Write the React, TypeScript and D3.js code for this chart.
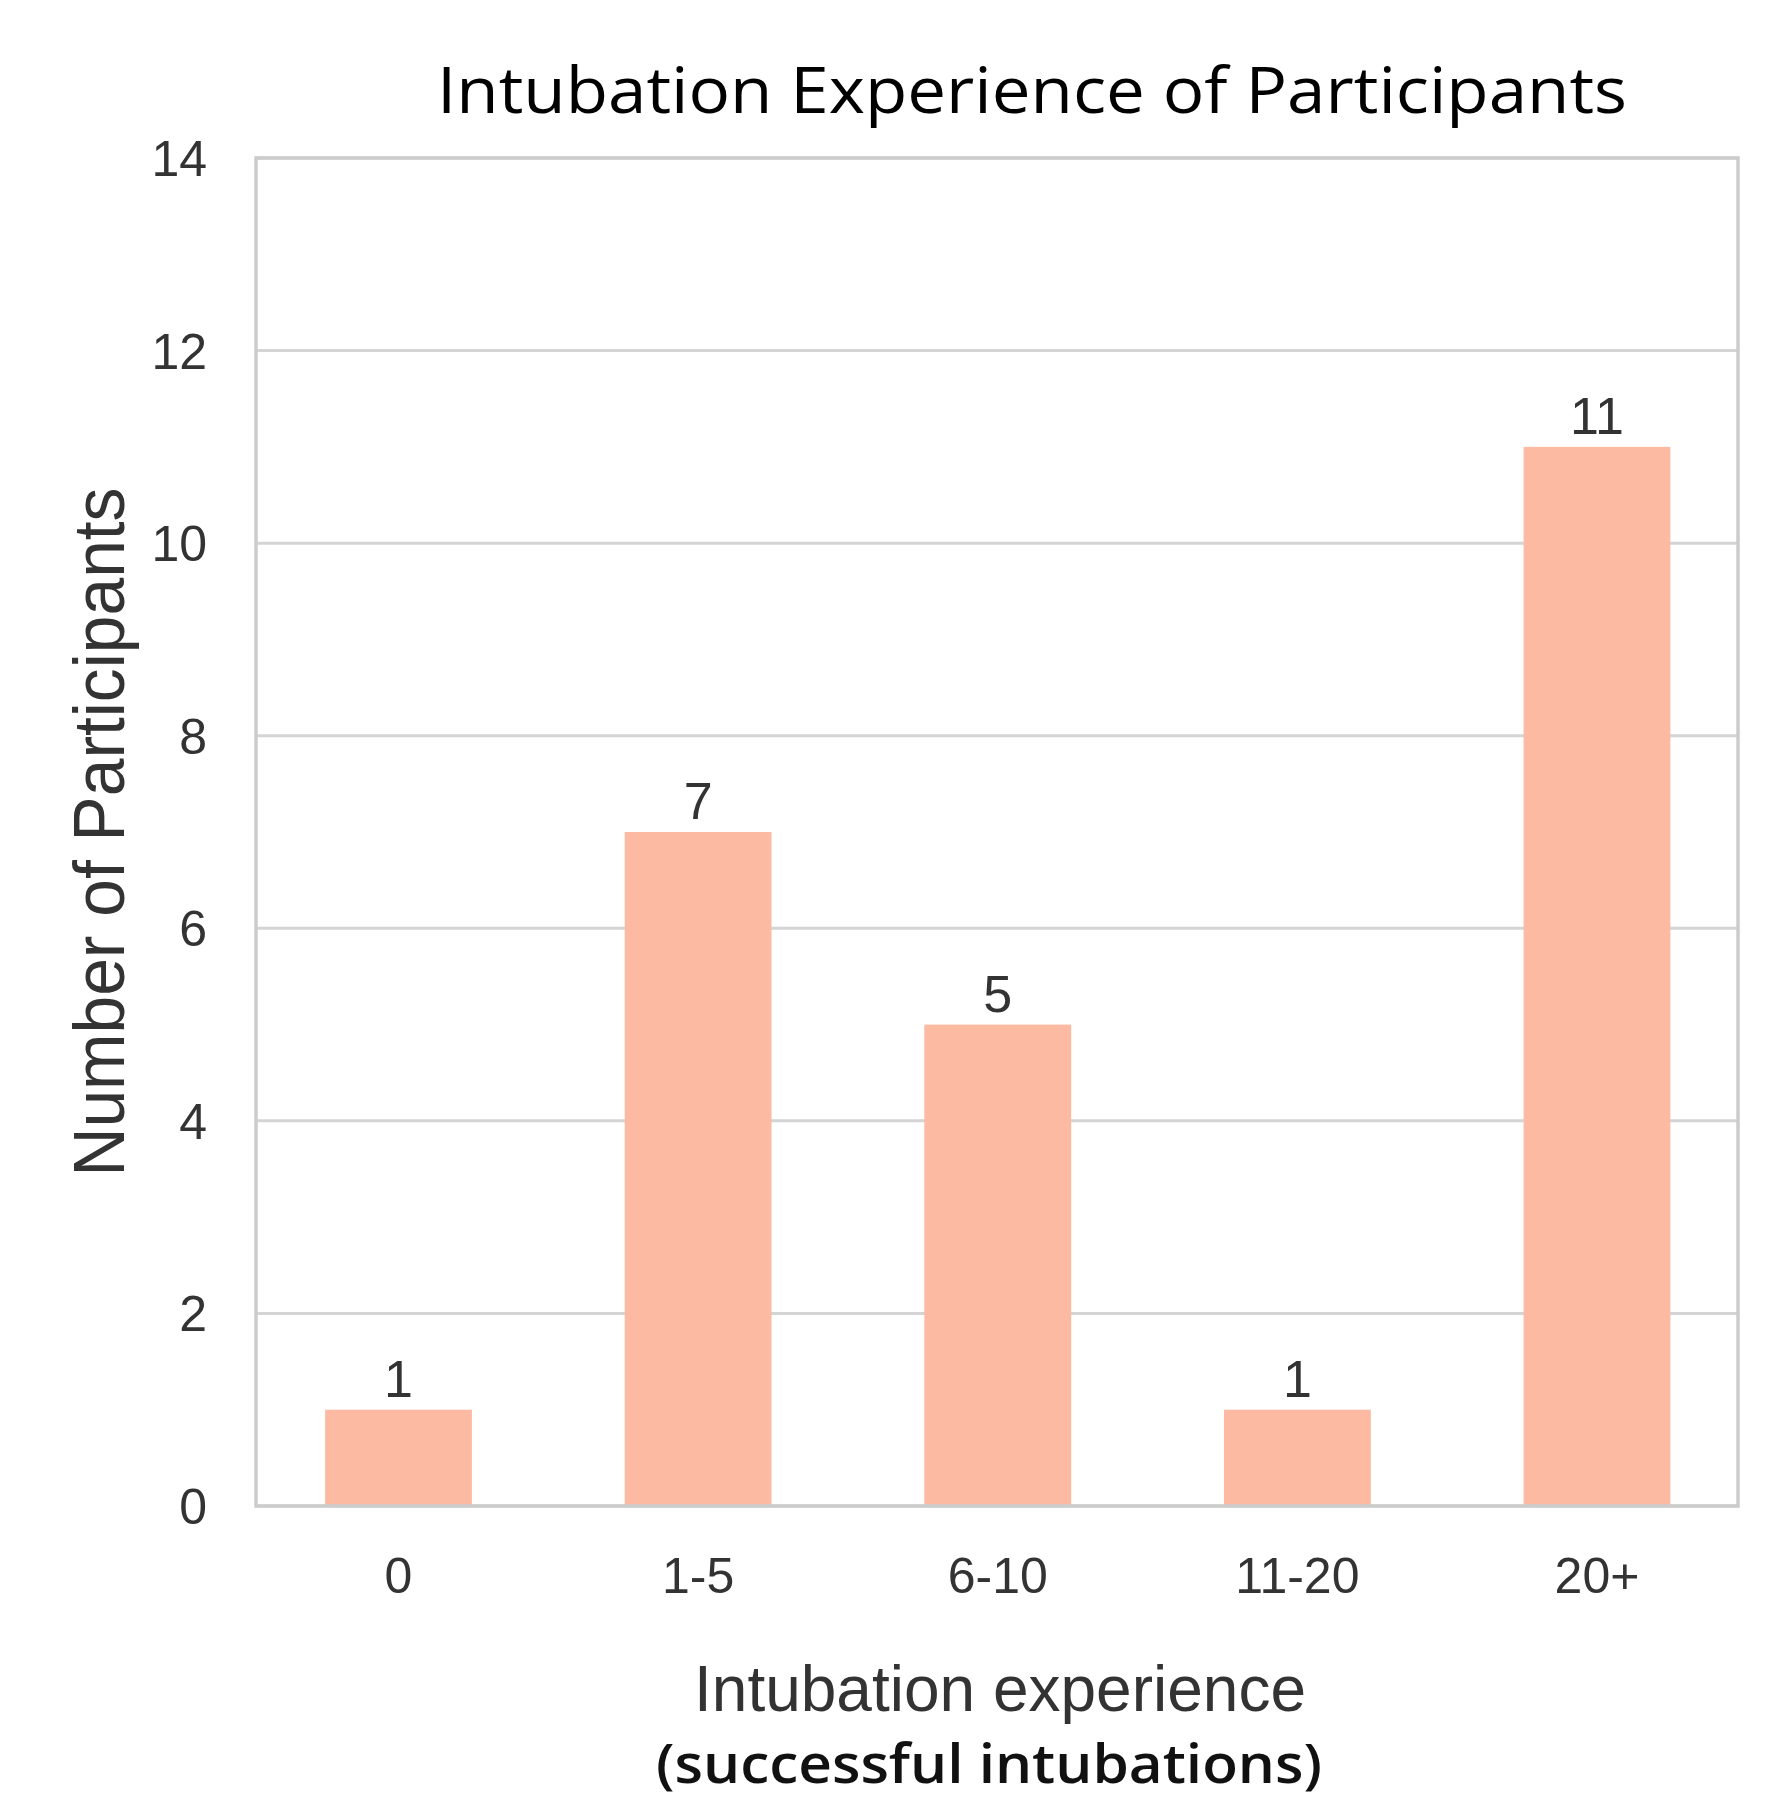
import React from "react";
import * as d3 from "d3";

const categories = ["0", "1-5", "6-10", "11-20", "20+"];
const participants = [1, 7, 5, 1, 11];
const yTicks = [0, 2, 4, 6, 8, 10, 12, 14];
const titleText = "Intubation Experience of Participants";
const xLabel1 = "Intubation experience";
const xLabel2 = "(successful intubations)";
const yLabel = "Number of Participants";

const W = 1790;
const H = 1800;
const frame = { left: 256, right: 1738, top: 158, bottom: 1506 };
const BAR_COLOR = "#fcbaa3";
const TEXT_COLOR = "#333333";
const GRID_COLOR = "#d4d4d4";
const FONT = "'Liberation Sans', Arial, sans-serif";

export default function App() {
  const x = d3.scalePoint<string>().domain(categories).range([398.5, 1597]);
  const step = x.step();
  const barW = step * 0.49;
  const y = d3.scaleLinear().domain([0, 14]).range([frame.bottom, frame.top]);

  return (
    <svg
      width={W}
      height={H}
      style={{ display: "block", background: "#fff", position: "absolute", left: 0, top: 0 }}
    >
      <rect x={0} y={0} width={W} height={H} fill="#fff" />
      {/* title */}
      <text
        x={437}
        y={113}
        fontFamily="'Open Sans', sans-serif"
        fontSize={64}
        fill="#000"
        textLength={1190}
        lengthAdjust="spacingAndGlyphs"
      >
        {titleText}
      </text>
      {/* gridlines */}
      {yTicks.map((t) => (
        <line
          key={"g" + t}
          x1={frame.left}
          x2={frame.right}
          y1={y(t)}
          y2={y(t)}
          stroke={GRID_COLOR}
          strokeWidth={3}
        />
      ))}
      {/* bars */}
      {categories.map((c, i) => (
        <rect
          key={"b" + c}
          x={(x(c) as number) - barW / 2}
          y={y(participants[i])}
          width={barW}
          height={y(0) - y(participants[i])}
          fill={BAR_COLOR}
        />
      ))}
      {/* frame */}
      <rect
        x={frame.left}
        y={frame.top}
        width={frame.right - frame.left}
        height={frame.bottom - frame.top}
        fill="none"
        stroke="#cccccc"
        strokeWidth={3.5}
      />
      {/* bar labels */}
      {categories.map((c, i) => (
        <text
          key={"l" + c}
          x={x(c) as number}
          y={y(participants[i]) - 13}
          textAnchor="middle"
          fontFamily={FONT}
          fontSize={52}
          fill={TEXT_COLOR}
        >
          {participants[i]}
        </text>
      ))}
      {/* y tick labels */}
      {yTicks.map((t) => (
        <text
          key={"yt" + t}
          x={207}
          y={y(t) + 18}
          textAnchor="end"
          fontFamily={FONT}
          fontSize={50}
          fill={TEXT_COLOR}
        >
          {t}
        </text>
      ))}
      {/* x tick labels */}
      {categories.map((c) => (
        <text
          key={"xt" + c}
          x={x(c) as number}
          y={1593}
          textAnchor="middle"
          fontFamily={FONT}
          fontSize={50}
          fill={TEXT_COLOR}
        >
          {c}
        </text>
      ))}
      {/* axis labels */}
      <text
        x={1000}
        y={1711}
        textAnchor="middle"
        fontFamily={FONT}
        fontSize={64}
        fill={TEXT_COLOR}
      >
        {xLabel1}
      </text>
      <text
        x={989}
        y={1783}
        textAnchor="middle"
        fontFamily="'Open Sans', sans-serif"
        fontWeight={600}
        fontSize={54}
        fill="#111"
        textLength={666}
        lengthAdjust="spacingAndGlyphs"
      >
        {xLabel2}
      </text>
      <text
        transform="translate(124,832) rotate(-90)"
        textAnchor="middle"
        fontFamily={FONT}
        fontSize={72}
        fill={TEXT_COLOR}
        textLength={689}
        lengthAdjust="spacingAndGlyphs"
      >
        {yLabel}
      </text>
    </svg>
  );
}
